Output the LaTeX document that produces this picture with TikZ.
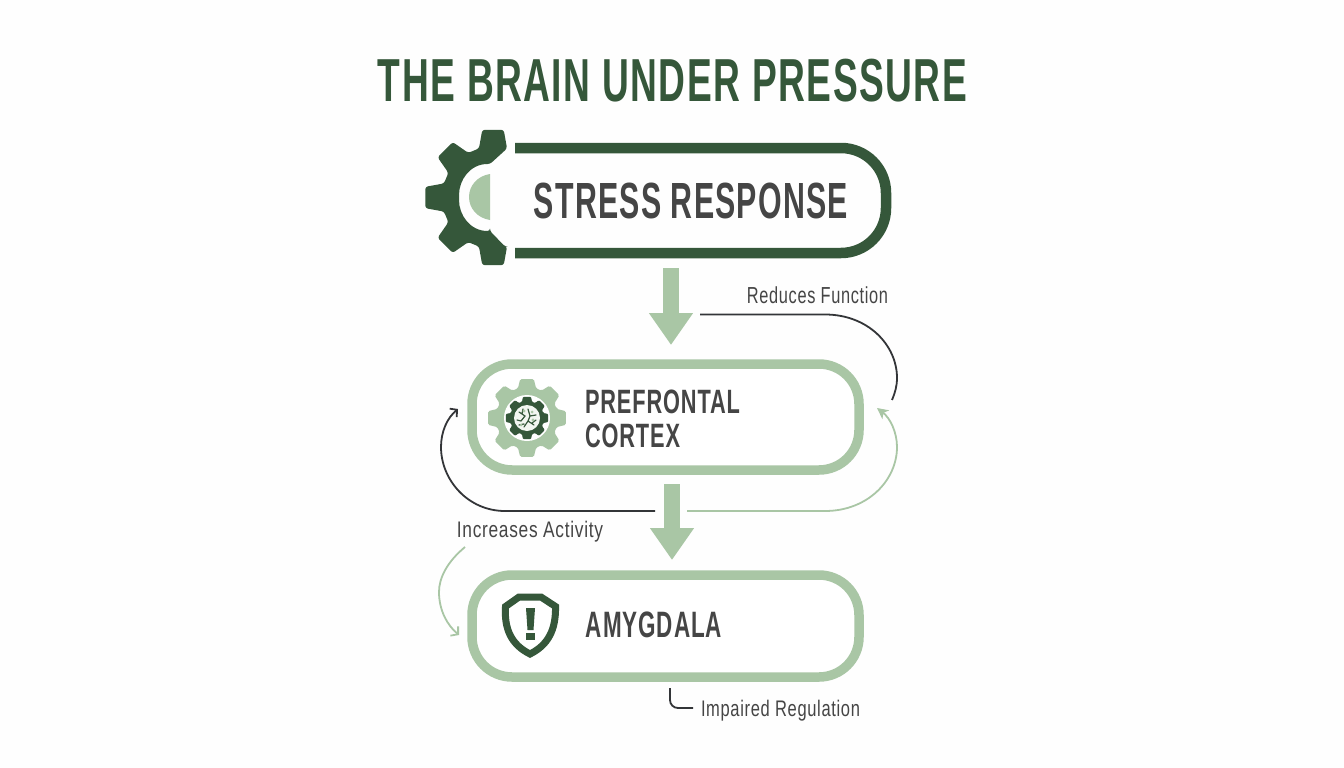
\documentclass[tikz,border=0pt]{standalone}
\usepackage{fontspec}
\usepackage{graphicx}
\setmainfont[LetterSpace=4]{Liberation Sans}
\usetikzlibrary{arrows.meta,calc}
\definecolor{dk}{HTML}{35573A}
\definecolor{lt}{HTML}{A9C6A5}
\definecolor{ink}{HTML}{454545}
\definecolor{cv}{HTML}{333538}
\definecolor{bgc}{HTML}{FEFEFE}
\newcommand{\fitb}[3]{\resizebox*{#1pt}{#2pt}{\bfseries #3}}
\newcommand{\fitr}[3]{\resizebox*{#1pt}{#2pt}{#3}}
\tikzset{
  every node/.style={inner sep=0pt,outer sep=0pt},
  boxn/.style={draw=lt,line width=9.5pt,rounded corners=40pt,minimum width=387pt,fill=white},
  head/.style={text=ink},
  lab/.style={text=ink},
  blockarrow/.style={draw=lt,line width=16.5pt,-{Triangle[width=42pt,length=32pt]}},
  darkcurve/.style={draw=cv,line width=1.8pt},
  lightcurve/.style={draw=lt,line width=1.8pt},
}
\begin{document}
\begin{tikzpicture}[x=1pt,y=-1pt]
\fill[bgc] (0,0) rectangle (1344,768);
\useasboundingbox (0,0) rectangle (1344,768);
% title
\node[text=dk] (title) at (672.5,80.5) {\fitb{589}{43}{THE BRAIN UNDER PRESSURE}};
% stress response box
\node[minimum width=430pt,minimum height=105pt] (stress) at (671,200.5) {};
\draw[dk,line width=10.5pt,rounded corners=45pt]
  ($(stress.north west)+(59,0)$) -- (stress.north east) -- (stress.south east) -- ($(stress.south west)+(59,0)$);
\node[head] (stresst) at (691,201) {\fitb{314}{36}{STRESS RESPONSE}};
% big gear
\begin{scope}[shift={(493,197.5)}]
\fill[dk,rounded corners=2.5pt] (-3,33.5) -- (12,49)
  \foreach \a in {90,135,180,225,270} { -- (\a-16:51) -- (\a-9:68.5) -- (\a+9:68.5) -- (\a+16:51) }
  -- (-3,-33.5) .. controls (-23,-33.5) and (-34,-17.5) .. (-34,0)
  .. controls (-34,17.5) and (-23,33.5) .. (-3,33.5) -- cycle;
\end{scope}
\fill[lt] (490,174) .. controls (477,176) and (469,186) .. (469,197)
  .. controls (469,208) and (477,218) .. (490,220) -- cycle;
% prefrontal box
\node[boxn,minimum height=106pt] (pfc) at (665.5,417) {};
\node[head,anchor=west] (pfct) at (585,418.5) {\fitb{155}{58}{\vbox{\baselineskip=10.1pt\lineskiplimit=-5pt\hbox{PREFRONTAL}\hbox{CORTEX}}}};
% small gear
\begin{scope}[shift={(527,418)}]
\fill[lt,rounded corners=1.5pt] (-17:31) \foreach \a in {0,45,...,315} { -- (\a-17:31) -- (\a-10:39.5) -- (\a+10:39.5) -- (\a+17:31) } -- cycle;
\fill[white] (0,0) circle[radius=23];
\fill[dk,rounded corners=1pt] (-17:17) \foreach \a in {0,45,...,315} { -- (\a-17:17) -- (\a-11:21.5) -- (\a+11:21.5) -- (\a+17:17) } -- cycle;
\fill[white!85!lt] (0,0) circle[radius=13];
\draw[dk,line width=1.2pt,line cap=round] (-8,-6) -- (-2,-2) -- (-6,3) (1,-9) -- (3,-2) -- (9,-3) (3,-2) -- (1,3) -- (7,7) (1,3) -- (-3,9) (-10,2) -- (-6,3) (-4,-9) -- (-5,-4) (9,2) -- (5,5) (-8,7) -- (-3,6);
\fill[lt] (-3,-7) circle[radius=1.7] (6,2) circle[radius=1.7] (-6,7) circle[radius=1.5] (5,-6) circle[radius=1.5];
\end{scope}
% amygdala box
\node[boxn,minimum height=102pt] (amy) at (665.5,626) {};
\node[head] (amyt) at (654,625) {\fitb{136}{26}{AMYGDALA}};
% shield
\draw[dk,line width=7pt,line join=miter]
  (519,597) -- (541,597) -- (555.5,606.5)
  .. controls (556,630) and (548,645) .. (530,654)
  .. controls (512,645) and (504,630) .. (505.5,606.5) -- cycle;
\fill[dk] (526,608) -- (535,608) -- (533.5,630) -- (527.5,630) -- cycle;
\fill[dk] (526,633) rectangle (535,640);
% block arrows
\draw[blockarrow,shorten <=15pt,shorten >=19pt] (stress.south) -- (stress.south |- pfc.north);
\draw[blockarrow,shorten <=14pt,shorten >=15pt] ([xshift=6.5pt]pfc.south) -- ([xshift=6.5pt]amy.north);
% labels
\node[lab] (reduces) at (817.5,295) {\fitr{141}{17}{Reduces Function}};
\node[lab] (increases) at (530,532) {\fitr{146}{21}{Increases Activity}};
\node[lab] (impaired) at (780.5,711) {\fitr{159}{21}{Impaired Regulation}};
% connector ends
\coordinate (c1s) at (700,314.5);
\coordinate (c1e) at (892,400);
\coordinate (c2s) at (687,511);
\coordinate (c2e) at (877,408);
\coordinate (c3s) at (655,511);
\coordinate (c3e) at (458,409);
\coordinate (c4s) at (465,547);
\coordinate (c4e) at (459,635);
\coordinate (c5s) at (670,688);
\coordinate (c5e) at (693,708);
% connectors
\draw[darkcurve] (c1s) -- (825,314.5) .. controls (868,314.5) and (897,345) .. (897,378)
  .. controls (897,386) and (895,393) .. (c1e);
\draw[lightcurve,-{Stealth[length=11pt,width=11pt,inset=3pt]}] (c2s) -- (825,511)
  .. controls (868,511) and (897,480) .. (897,447) .. controls (897,432) and (890,418) .. (c2e);
\draw[darkcurve,-{Straight Barb[length=5pt,width=11pt]}] (c3s) -- (505,511)
  .. controls (468,511) and (441,480) .. (441,447) .. controls (441,432) and (447,418) .. (c3e);
\draw[lightcurve,-{Straight Barb[length=5pt,width=12pt]}] (c4s) .. controls (447,562) and (439,578) .. (439,592)
  .. controls (439,610) and (447,625) .. (c4e);
\draw[darkcurve,rounded corners=8pt] (c5s) -- (670,708) -- (c5e);
\end{tikzpicture}
\end{document}
